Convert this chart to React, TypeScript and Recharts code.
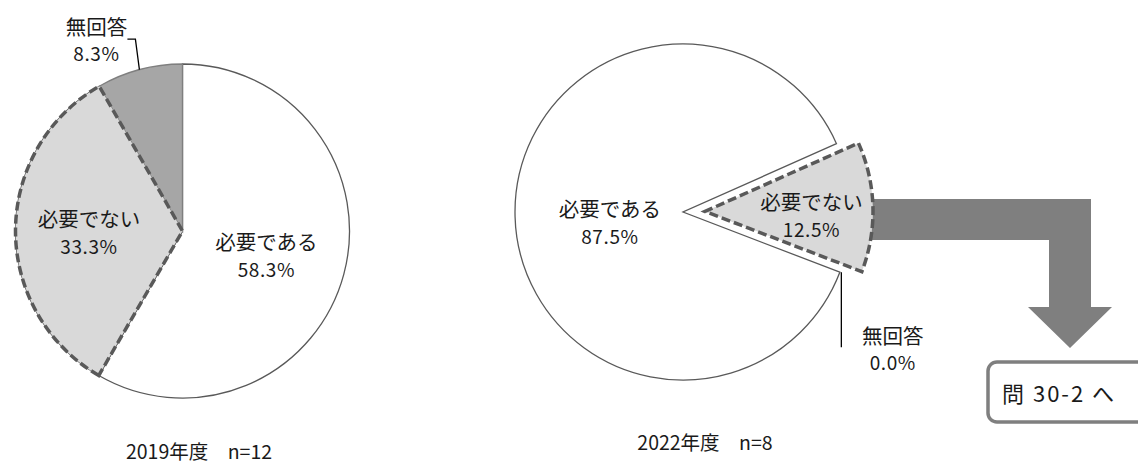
import React from 'react';
import { PieChart, Pie, Cell } from 'recharts';

// Survey answers (percent of respondents)
const categories = ['必要である', '必要でない', '無回答'];
const values2019 = [58.3, 33.3, 8.3];
const values2022 = [87.5, 12.5, 0.0];
const titles = ['2019年度\u3000n=12', '2022年度\u3000n=8'];
const jumpLabel = '問 30-2 へ';

const toRows = (vals: number[]) => categories.map((name, i) => ({ name, value: vals[i] }));
const data2019 = toRows(values2019);
const data2022 = toRows(values2022);

const FONT = '"Noto Sans CJK JP", "Noto Sans CJK SC", sans-serif';
const INK = '#1a1a1a';
const EDGE = '#595959';
const ARROW = '#7f7f7f';
const RAD = Math.PI / 180;

const W = 1138;
const H = 465;

// pie geometry
const LEFT = { cx: 182.5, cy: 231, r: 167, start: 90 };
const RIGHT = { cx: 683, cy: 212, r: 168, start: -21 };
const EXPLODE = 22;

const polar = (cx: number, cy: number, r: number, angle: number) => ({
  x: cx + r * Math.cos(-angle * RAD),
  y: cy + r * Math.sin(-angle * RAD),
});

// mid angle of the "not needed" slice in the 2022 pie, used to pull it out
const total2022 = values2022.reduce((a, b) => a + b, 0);
const before2022 = values2022[0];
const midNotNeeded = RIGHT.start - ((before2022 + values2022[1] / 2) / total2022) * 360;
const shift = polar(0, 0, EXPLODE, midNotNeeded);

const pct = (v: number) => `${Number(v).toFixed(1)}%`;

const TwoLine = ({ x, y, name, value }: { x: number; y: number; name: string; value: number }) => (
  <g fontFamily={FONT} fill={INK}>
    <text x={x} y={y - 13.5} fontSize={20.5} textAnchor="middle" dominantBaseline="central">
      {name}
    </text>
    <text x={x} y={y + 13.5} fontSize={19} letterSpacing={0.6} textAnchor="middle" dominantBaseline="central">
      {pct(value)}
    </text>
  </g>
);

const label2019 = (p: any) => {
  const { cx, cy, midAngle, outerRadius, index, value } = p;
  const name = categories[index];
  if (index === 2) {
    const edge = polar(cx, cy, outerRadius, midAngle);
    const elbow = { x: edge.x - 4, y: edge.y - 30.5 };
    const end = { x: elbow.x - 8, y: elbow.y };
    return (
      <g>
        <polyline
          points={`${edge.x},${edge.y} ${elbow.x},${elbow.y} ${end.x},${end.y}`}
          fill="none"
          stroke="#000"
          strokeWidth={1.3}
        />
        <TwoLine x={end.x - 31} y={end.y} name={name} value={value} />
      </g>
    );
  }
  const f = index === 0 ? 0.52 : 0.56;
  const c = polar(cx, cy, outerRadius * f, midAngle);
  return <TwoLine x={c.x} y={c.y + 1} name={name} value={value} />;
};

const label2022 = (p: any) => {
  const { cx, cy, midAngle, outerRadius, index, value } = p;
  const name = categories[index];
  if (index === 0) {
    const c = polar(cx, cy, outerRadius * 0.435, midAngle);
    return <TwoLine x={c.x} y={c.y + 8} name={name} value={value} />;
  }
  if (index === 2) {
    const edge = polar(cx, cy, outerRadius, midAngle);
    const end = { x: edge.x + 1.5, y: edge.y + 75 };
    return (
      <g>
        <line x1={edge.x + 1.5} y1={edge.y} x2={end.x} y2={end.y} stroke="#000" strokeWidth={1.3} />
        <TwoLine x={edge.x + 53} y={edge.y + 76} name={name} value={value} />
      </g>
    );
  }
  return <g />;
};

const labelExploded = (p: any) => {
  const { cx, cy, midAngle, outerRadius, index, value } = p;
  if (index !== 1) return <g />;
  const c = polar(cx, cy, outerRadius * 0.634, midAngle);
  return <TwoLine x={c.x} y={c.y + 6} name={categories[index]} value={value} />;
};

const thin = { stroke: EDGE, strokeWidth: 1.3 };
const dashed = { fill: '#d9d9d9', stroke: EDGE, strokeWidth: 3.5, strokeDasharray: '9 4' };
const hidden = { fill: 'none', stroke: 'none' };

export default function App() {
  return (
    <div style={{ position: 'absolute', left: 0, top: 0, width: W, height: H, background: '#fff' }}>
      {/* jump arrow, target box and captions */}
      <svg width={W} height={H} style={{ position: 'absolute', left: 0, top: 0 }}>
        <polygon
          points="860,199 1091,199 1091,307 1112,307 1070,348 1028,307 1049,307 1049,240 860,240"
          fill={ARROW}
        />
        <rect x={988} y={362} width={175} height={60} rx={9} fill="#fff" stroke={ARROW} strokeWidth={3.5} />
        <text
          x={1002}
          y={392}
          fontFamily={FONT}
          fontSize={22}
          letterSpacing={2}
          fill={INK}
          dominantBaseline="central"
        >
          {jumpLabel}
        </text>
        <text x={199} y={450} fontFamily={FONT} fontSize={19.5} fill={INK} textAnchor="middle" dominantBaseline="central">
          {titles[0]}
        </text>
        <text x={705} y={441} fontFamily={FONT} fontSize={19.5} fill={INK} textAnchor="middle" dominantBaseline="central">
          {titles[1]}
        </text>
      </svg>
      <div style={{ position: 'absolute', left: 0, top: 0 }}>
        <PieChart width={W} height={H} margin={{ top: 0, right: 0, bottom: 0, left: 0 }}>
          {/* 2019 */}
          <Pie
            data={data2019}
            dataKey="value"
            nameKey="name"
            cx={LEFT.cx}
            cy={LEFT.cy}
            outerRadius={LEFT.r}
            startAngle={LEFT.start}
            endAngle={LEFT.start - 360}
            isAnimationActive={false}
            label={label2019}
            labelLine={false}
          >
            <Cell fill="#ffffff" {...thin} />
            <Cell fill="#d9d9d9" {...thin} />
            <Cell fill="#a6a6a6" stroke="#7f7f7f" strokeWidth={1.3} />
          </Pie>
          <Pie
            data={data2019}
            dataKey="value"
            nameKey="name"
            cx={LEFT.cx}
            cy={LEFT.cy}
            outerRadius={LEFT.r}
            startAngle={LEFT.start}
            endAngle={LEFT.start - 360}
            isAnimationActive={false}
            label={false}
            labelLine={false}
          >
            <Cell {...hidden} />
            <Cell {...dashed} />
            <Cell {...hidden} />
          </Pie>

          {/* 2022 */}
          <Pie
            data={data2022}
            dataKey="value"
            nameKey="name"
            cx={RIGHT.cx}
            cy={RIGHT.cy}
            outerRadius={RIGHT.r}
            startAngle={RIGHT.start}
            endAngle={RIGHT.start - 360}
            isAnimationActive={false}
            label={label2022}
            labelLine={false}
          >
            <Cell fill="#ffffff" {...thin} />
            <Cell {...hidden} />
            <Cell {...hidden} />
          </Pie>
          <Pie
            data={data2022}
            dataKey="value"
            nameKey="name"
            cx={RIGHT.cx + shift.x}
            cy={RIGHT.cy + shift.y}
            outerRadius={RIGHT.r}
            startAngle={RIGHT.start}
            endAngle={RIGHT.start - 360}
            isAnimationActive={false}
            label={labelExploded}
            labelLine={false}
          >
            <Cell {...hidden} />
            <Cell {...dashed} />
            <Cell {...hidden} />
          </Pie>
        </PieChart>
      </div>
    </div>
  );
}
